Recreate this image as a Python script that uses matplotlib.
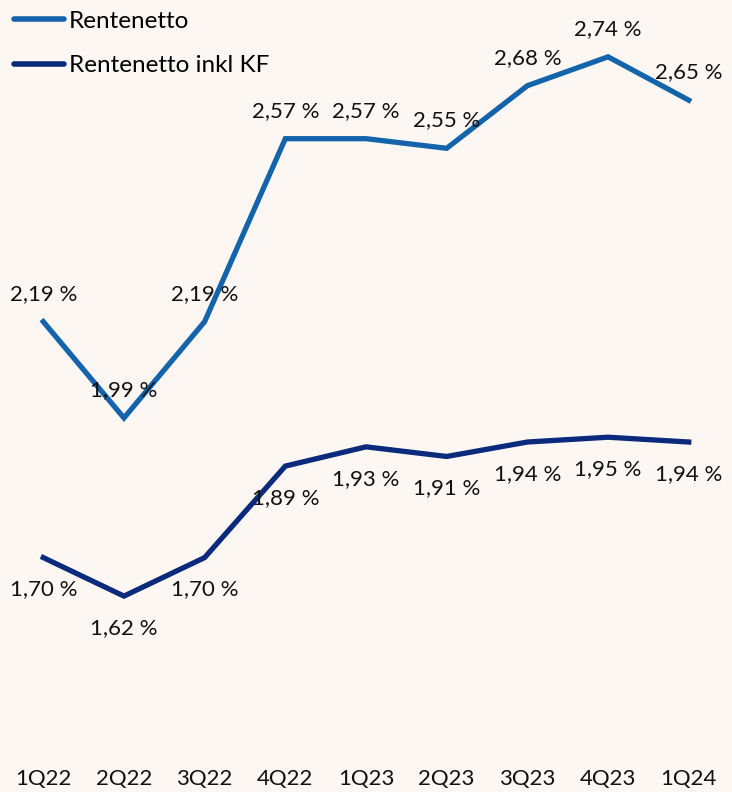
import matplotlib
matplotlib.use("Agg")
from matplotlib import pyplot as plt

# quarters and the two series (percent)
quarters = ["1Q22", "2Q22", "3Q22", "4Q22", "1Q23", "2Q23", "3Q23", "4Q23", "1Q24"]
rentenetto = [2.19, 1.99, 2.19, 2.57, 2.57, 2.55, 2.68, 2.74, 2.65]
rentenetto_kf = [1.70, 1.62, 1.70, 1.89, 1.93, 1.91, 1.94, 1.95, 1.94]

bg = "#fcf7f3"
light_blue = "#1464ab"
navy = "#0b2a7c"

plt.rcParams['font.family'] = ['Lato', 'DejaVu Sans']


def fmt(v):
    # norwegian style decimal comma
    return ("%.2f" % v).replace(".", ",") + " %"


fig = plt.figure(figsize=(7.32, 7.92), dpi=100, facecolor=bg)
ax = fig.add_axes([0.004, 37 / 792, 0.992, 755 / 792])
ax.set_facecolor(bg)

x = list(range(len(quarters)))
ax.plot(x, rentenetto, color=light_blue, lw=3.8, label="Rentenetto", solid_joinstyle="miter")
ax.plot(x, rentenetto_kf, color=navy, lw=3.8, label="Rentenetto inkl KF", solid_joinstyle="miter")

for i, v in enumerate(rentenetto):
    ax.annotate(fmt(v), (i, v), xytext=(0, 20), textcoords="offset points",
                ha="center", va="center", fontsize=16, color="#111111")
for i, v in enumerate(rentenetto_kf):
    ax.annotate(fmt(v), (i, v), xytext=(0, -23), textcoords="offset points",
                ha="center", va="center", fontsize=16, color="#111111")

ax.set_xlim(-0.5, len(quarters) - 0.5)
ax.set_ylim(1.290, 2.858)
ax.set_xticks(x)
ax.set_xticklabels(quarters, fontsize=16, color="#111111")
ax.set_yticks([])
ax.tick_params(axis="x", length=0, pad=10)
for s in ax.spines.values():
    s.set_visible(False)

leg = ax.legend(loc="upper left", frameon=False, fontsize=17.5, handlelength=2.05,
                handletextpad=0.2, labelspacing=0.95, borderaxespad=0.4, borderpad=0.05)
for line in leg.get_lines():
    line.set_linewidth(4)
    line.set_solid_capstyle("round")

fig.savefig("out.png", dpi=100, facecolor=bg)
